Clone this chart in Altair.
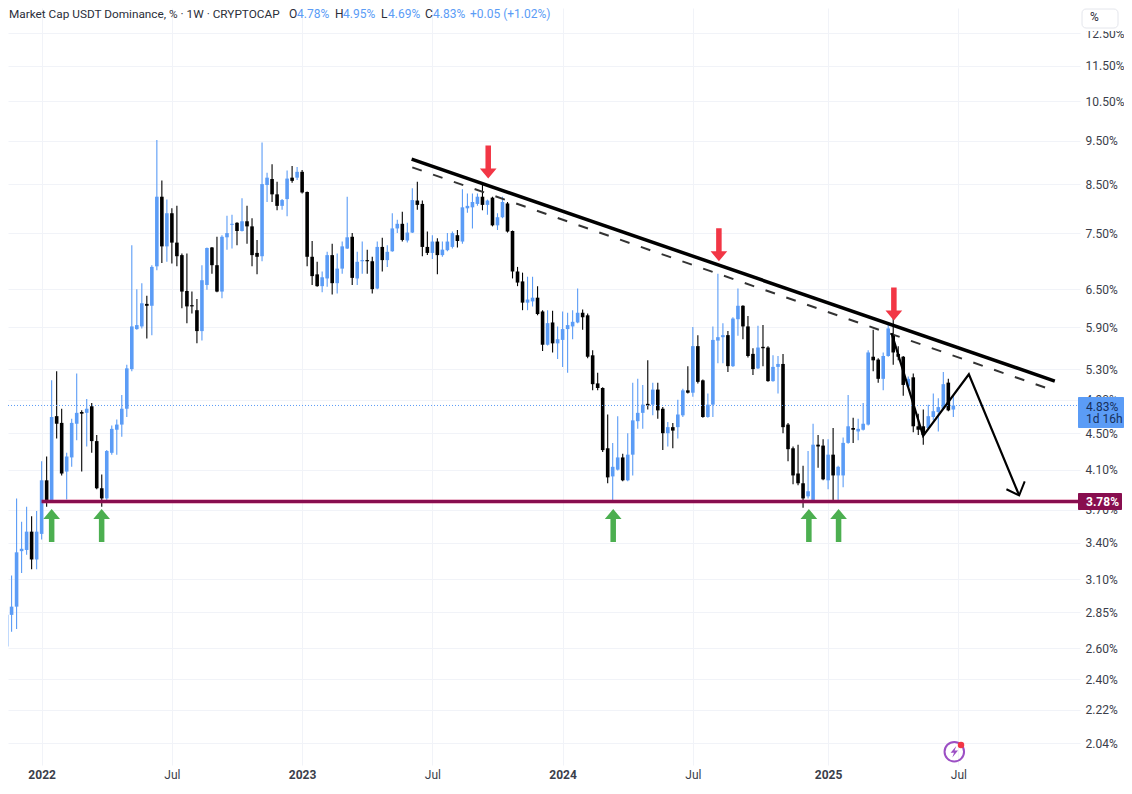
import altair as alt
import pandas as pd

# weekly candles, first one in the week of 2021-11-08
opens = [2.78,2.61,2.83,2.89,3.33,3.34,3.50,3.26,
 3.48,3.99,3.78,4.70,4.62,4.08,4.23,4.61,4.75,4.74,
 4.82,4.41,3.91,3.81,4.28,4.54,4.60,4.79,5.30,5.87,
 5.91,6.26,6.23,6.89,8.23,7.25,7.89,7.32,7.09,6.47,
 6.24,6.16,5.84,6.57,7.23,6.91,6.46,7.42,7.66,7.70,
 7.54,7.73,7.63,7.13,7.07,8.48,8.61,8.28,8.04,8.18,
 8.64,8.64,8.77,8.33,7.06,6.75,6.55,6.68,7.09,6.60,
 6.85,7.21,7.43,6.68,6.98,7.00,6.98,6.51,7.24,7.00,
 7.16,7.59,7.68,7.36,7.51,8.15,8.08,7.24,7.13,7.34,
 7.09,7.18,7.24,7.46,7.34,7.99,8.01,8.08,8.23,8.06,
 8.21,7.65,7.81,8.09,7.54,6.80,6.63,6.28,6.30,6.36,
 6.14,5.64,5.97,5.66,5.71,5.87,5.91,5.97,6.12,6.08,
 5.49,5.11,5.05,4.33,4.03,4.10,4.23,3.99,4.26,4.64,
 4.74,4.85,4.84,5.03,4.79,4.50,4.57,4.57,4.71,5.02,
 4.99,5.62,5.15,4.69,4.84,5.70,5.75,5.78,5.34,6.02,
 6.23,5.91,5.51,5.31,5.61,5.60,5.14,5.33,5.37,4.60,
 4.33,4.06,3.96,3.83,3.79,4.37,4.36,3.99,4.26,4.04,
 4.04,4.39,4.56,4.52,4.54,4.60,5.47,5.43,5.17,5.48,
 5.78,5.51,5.47,5.07,5.19,4.58,4.58,4.56,4.69,4.75,
 4.79,5.12,4.78]
closes = [2.46,2.83,2.89,3.32,3.35,3.50,3.26,3.50,
 3.99,3.78,4.69,4.61,4.06,4.24,4.62,4.74,4.73,4.79,
 4.41,3.91,3.81,4.30,4.55,4.60,4.79,5.31,5.91,5.93,
 6.27,6.23,6.88,8.23,7.25,7.89,7.32,7.07,6.46,6.22,
 6.22,5.84,6.65,7.22,6.91,6.46,7.43,7.50,7.68,7.54,
 7.73,7.63,7.09,7.06,8.50,8.64,8.28,8.04,8.16,8.62,
 8.57,8.77,8.32,7.06,6.72,6.55,6.70,7.09,6.60,6.85,
 7.25,7.42,6.69,6.97,7.00,6.98,6.50,7.24,7.00,7.15,
 7.59,7.68,7.37,7.51,8.16,8.06,7.24,7.13,7.34,7.09,
 7.19,7.34,7.50,7.35,8.01,8.04,8.12,8.23,8.06,8.15,
 7.65,7.81,8.12,7.53,6.80,6.61,6.28,6.33,6.36,6.10,
 5.64,5.96,5.66,5.72,5.87,5.93,5.98,6.12,6.05,5.47,
 5.10,5.05,4.31,4.02,4.13,4.23,3.99,4.26,4.65,4.74,
 4.84,4.83,5.03,4.77,4.50,4.57,4.53,4.72,5.02,4.99,
 5.62,5.13,4.69,4.84,5.71,5.75,5.78,5.34,6.03,6.23,
 5.91,5.48,5.30,5.60,5.59,5.14,5.33,5.37,4.57,4.32,
 4.04,3.96,3.81,3.88,4.37,4.35,4.00,4.26,4.04,4.13,
 4.39,4.58,4.54,4.55,4.61,5.53,5.42,5.17,5.48,5.88,
 5.53,5.47,5.09,5.17,4.58,4.54,4.48,4.70,4.76,4.81,
 5.10,4.77,4.83]
highs = [2.85,3.07,3.13,3.81,3.59,3.73,3.64,3.69,
 4.19,4.24,5.15,5.27,4.79,4.28,4.67,5.24,4.77,4.91,
 4.86,4.48,4.05,4.31,4.59,4.66,4.96,5.36,7.27,6.50,
 6.60,6.39,6.91,9.51,8.58,8.17,7.99,8.04,7.12,7.12,
 6.46,6.34,6.91,7.23,7.24,7.43,7.46,7.84,7.86,7.71,
 8.20,8.04,7.79,7.37,9.45,8.75,8.94,8.55,8.18,8.80,
 8.90,8.88,8.81,8.34,7.35,6.97,6.80,7.15,7.30,7.12,
 7.34,8.23,7.50,7.15,7.34,7.19,7.06,7.34,7.41,7.27,
 7.89,7.76,7.92,7.70,8.41,8.55,8.15,7.53,7.46,7.40,
 7.34,7.50,7.53,7.56,8.39,8.30,8.30,8.30,8.48,8.17,
 8.23,7.89,8.23,8.12,7.55,6.88,6.78,6.71,6.71,6.55,
 6.16,6.16,6.15,5.91,6.14,6.12,6.16,6.51,6.17,6.11,
 5.56,5.25,5.06,4.72,4.39,4.70,4.27,4.50,5.12,5.17,
 5.09,5.42,5.12,5.12,4.81,4.63,4.62,4.90,5.04,5.34,
 5.90,5.78,5.16,4.98,5.91,6.76,5.96,5.84,6.05,6.51,
 6.24,6.07,5.59,5.92,5.93,5.62,5.49,5.48,5.51,4.62,
 4.35,4.37,4.14,4.30,4.61,4.48,4.43,4.43,4.56,4.14,
 4.45,4.96,4.68,4.67,4.86,5.56,5.86,5.45,5.53,5.96,
 6.16,5.62,5.48,5.20,5.24,4.73,4.78,4.84,4.98,4.92,
 5.26,5.17,4.95]
lows = [2.40,2.55,2.71,2.73,3.15,3.30,3.18,3.18,
 3.43,3.73,3.78,4.44,4.04,3.80,4.13,4.42,4.08,4.35,
 4.28,3.90,3.73,3.78,4.26,4.26,4.46,4.69,5.27,5.86,
 5.88,5.73,5.78,6.82,6.95,6.97,6.94,6.89,6.19,5.96,
 6.11,5.66,5.70,6.49,6.76,6.45,6.35,7.19,7.21,7.27,
 7.53,7.30,6.89,6.75,6.98,8.12,8.12,7.95,7.96,7.83,
 8.53,8.59,8.30,6.89,6.57,6.54,6.45,6.54,6.41,6.43,
 6.76,7.20,6.57,6.57,6.76,6.76,6.43,6.50,6.80,6.88,
 7.15,7.50,7.34,7.32,7.50,7.96,7.07,7.09,7.02,6.75,
 7.06,7.16,7.21,7.23,7.30,7.90,7.59,8.04,7.95,7.86,
 7.63,7.56,7.79,7.51,6.68,6.55,6.16,6.16,6.22,6.08,
 5.55,5.63,5.53,5.44,5.33,5.25,5.72,5.96,5.86,5.45,
 5.02,5.02,4.29,3.96,3.78,4.09,3.98,3.98,4.04,4.55,
 4.55,4.78,4.71,4.67,4.31,4.35,4.33,4.44,4.69,4.98,
 4.94,5.11,4.68,4.68,4.69,5.38,5.38,5.26,5.33,5.77,
 5.72,5.46,5.22,5.30,5.34,5.13,5.13,4.98,4.50,4.19,
 3.95,3.94,3.72,3.81,3.78,4.12,3.99,3.90,3.78,3.77,
 3.92,4.38,4.39,4.42,4.53,4.59,5.27,5.12,5.02,5.47,
 5.36,5.42,4.95,5.05,4.51,4.48,4.37,4.54,4.65,4.52,
 4.78,4.76,4.69]

price_ticks = [12.5,11.5,10.5,9.5,8.5,7.5,6.5,5.9,5.3,4.9,4.5,4.1,3.7,3.4,3.1,2.85,2.6,2.4,2.22,2.04]
BLUE = "#5b9cf6"
PURPLE = "#880e4f"

def week(i):
    return (pd.Timestamp("2022-01-03") + pd.Timedelta(days=7 * i)).isoformat()

# annotations: (week number counted from 2022-01-03, percent)
resistance = [(73.86, 9.06), (202.26, 5.14)]
resistance_dashed = [(73.99, 8.87), (200.6, 5.05)]
projection = [(169.67, 5.81), (175.97, 4.47), (185.1, 5.23), (195.14, 3.84)]
projection_head = [(192.6, 3.90), (195.14, 3.84), (196.25, 3.98)]
red_arrows = [(89.15, 8.99), (135.2, 7.28), (170.13, 6.26)]
green_arrows = [(2.0, 3.555), (11.98, 3.555), (114.1, 3.555), (153.16, 3.555), (159.09, 3.555)]

tick_dates = [(2022,1,3),(2022,7,4),(2023,1,2),(2023,7,3),(2024,1,1),(2024,7,1),(2025,1,6),(2025,7,7)]

candles = pd.DataFrame({
    "date": pd.date_range("2021-11-08", periods=len(opens), freq="7D"),
    "open": opens, "high": highs, "low": lows, "close": closes,
})
candles["top"] = candles[["open", "close"]].max(axis=1)
candles["bottom"] = candles[["open", "close"]].min(axis=1)
candles["dir"] = ["up" if c >= o else "down" for o, c in zip(opens, closes)]

def frame(points):
    return pd.DataFrame({"date": [week(p[0]) for p in points], "value": [p[1] for p in points],
                         "order": list(range(len(points)))})

xs = alt.Scale(domain=[alt.DateTime(year=2021, month=11, date=17), alt.DateTime(year=2025, month=12, date=24)])
ys = alt.Scale(type="log", domain=[1.929, 13.324], nice=False)
color = alt.Color("dir:N", legend=None, scale=alt.Scale(domain=["up", "down"], range=[BLUE, "#000000"]))
GRID = "#f1f3f8"
x_axis = alt.Axis(
    values=[alt.DateTime(year=a, month=b, date=c) for a, b, c in tick_dates],
    labelExpr="month(datum.value)==0 ? timeFormat(datum.value,'%Y') : 'Jul'",
    labelFontWeight={"condition": {"test": "month(datum.value)==0", "value": "bold"}, "value": "normal"},
    labelFont="Roboto", labelFontSize=12, labelColor="#3a3e4a", labelPadding=4,
    ticks=False, domain=False, grid=True, gridColor=GRID, labelOverlap=False, labelFlush=False)
y_axis = alt.Axis(
    orient="right", values=price_ticks, labelExpr="format(datum.value,'.2f')+'%'",
    labelFont="Roboto", labelFontSize=12, labelColor="#3a3e4a", labelPadding=5,
    ticks=False, domain=False, grid=True, gridColor=GRID, labelOverlap=False, labelFlush=False)
X = alt.X("date:T", scale=xs, axis=x_axis, title=None)
Y = alt.Y("value:Q", scale=ys, axis=y_axis, title=None)

wicks = alt.Chart(candles).mark_rule(strokeWidth=1.1, clip=True).encode(
    x=X, y=alt.Y("low:Q", scale=ys, axis=y_axis, title=None), y2="high:Q", color=color)
bodies = alt.Chart(candles).mark_rule(strokeWidth=3.6, strokeCap="butt", clip=True).encode(
    x=X, y=alt.Y("bottom:Q", scale=ys, axis=y_axis, title=None), y2="top:Q", color=color)

value_frame = pd.DataFrame({"value": [4.83]})
price_line = alt.Chart(value_frame).mark_rule(color=BLUE, strokeWidth=1, strokeDash=[1, 2]).encode(y=Y)

support = pd.DataFrame({"date": [week(0)], "end": [week(207.25)], "value": [3.78]})
support_halo = alt.Chart(support).mark_rule(color="#c2185b", strokeWidth=5, opacity=0.3).encode(x=X, x2="end:T", y=Y)
support_line = alt.Chart(support).mark_rule(color=PURPLE, strokeWidth=3).encode(x=X, x2="end:T", y=Y)

def line(points, width, color="#000000", dash=None):
    kw = {"strokeDash": dash} if dash else {}
    return alt.Chart(frame(points)).mark_line(color=color, strokeWidth=width, strokeCap="butt", **kw).encode(
        x=X, y=Y, order="order:Q")

UP = "M0,-1L0.506,-0.394L0.167,-0.394L0.167,1L-0.167,1L-0.167,-0.394L-0.506,-0.394Z"
DOWN = "M0,1L0.506,0.394L0.167,0.394L0.167,-1L-0.167,-1L-0.167,0.394L-0.506,0.394Z"
reds = alt.Chart(frame(red_arrows)).mark_point(shape=DOWN, size=1089, filled=True, opacity=1, color="#f23645", strokeWidth=0).encode(x=X, y=Y)
greens = alt.Chart(frame(green_arrows)).mark_point(shape=UP, size=1089, filled=True, opacity=1, color="#4caf50", strokeWidth=0).encode(x=X, y=Y)

ONE = {"values": [{}]}
OFF = 8  # page margin

def label(txt, px, py, color="#2a2e39", size=12, weight="normal"):
    return alt.Chart(ONE).mark_text(text=txt, align="left", baseline="middle", font="Roboto", fontSize=size,
                                    fontWeight=weight, color=color).encode(
        x=alt.value(px - OFF), y=alt.value(py - OFF))

def box(x0, x1, y0, y1, fill, stroke=None, radius=0):
    kw = {"stroke": stroke, "strokeWidth": 1} if stroke else {}
    return alt.Chart(ONE).mark_rect(color=fill, cornerRadius=radius, **kw).encode(
        x=alt.value(x0 - OFF), x2=alt.value(x1 - OFF), y=alt.value(y0 - OFF), y2=alt.value(y1 - OFF))

def dot(px, py, **kw):
    return alt.Chart(ONE).mark_point(**kw).encode(x=alt.value(px - OFF), y=alt.value(py - OFF))

BOLT = "M0.35,-1L-0.65,0.2L-0.05,0.2L-0.35,1L0.65,-0.2L0.05,-0.2Z"

texts = [
    label("Market Cap USDT Dominance, % · 1W · CRYPTOCAP", 9, 14, size=11.8),
    label("O", 289, 14), label("4.78%", 297, 14, BLUE),
    label("H", 335, 14), label("4.95%", 343, 14, BLUE),
    label("L", 381, 14), label("4.69%", 388, 14, BLUE),
    label("C", 425, 14), label("4.83%", 433, 14, BLUE),
    label("+0.05 (+1.02%)", 470, 14, BLUE),
    box(1078, 1124, 8, 31, "#ffffff"),
    box(1082, 1118, 9, 28, "#ffffff", "#e4e6ec", 4),
    label("%", 1090, 17),
    box(1078, 1124, 397, 428, BLUE, None, 1),
    label("4.83%", 1086, 407, "#17305c"),
    label("1d 16h", 1086, 419, "#17305c"),
    box(1078, 1122, 493, 510, PURPLE, None, 1),
    label("3.78%", 1086, 502, "#ffffff", 12, "bold"),
    dot(954.3, 751.7, shape="circle", size=380, filled=False, color="#9c4fc4", strokeWidth=2, opacity=1),
    dot(954.3, 751.7, shape=BOLT, size=130, filled=True, color="#9c4fc4", strokeWidth=0, opacity=1),
    dot(961, 745, shape="circle", size=42, filled=True, color="#f23645", strokeWidth=0, opacity=1),
]

chart = alt.layer(
    wicks, bodies, price_line, support_halo, support_line,
    line(resistance, 3.5),
    line(resistance_dashed, 2, "#333333", [10, 12]),
    line(projection, 2.2),
    line(projection_head, 2),
    reds, greens, *texts,
).properties(
    width=1072, height=757,
    padding={"left": 0, "top": 0, "right": 44, "bottom": 16},
    autosize=alt.AutoSizeParams(type="none"),
    background="#ffffff",
).configure_view(strokeWidth=0)

chart.save("out.html", embed_options={"renderer": "svg", "actions": False})
